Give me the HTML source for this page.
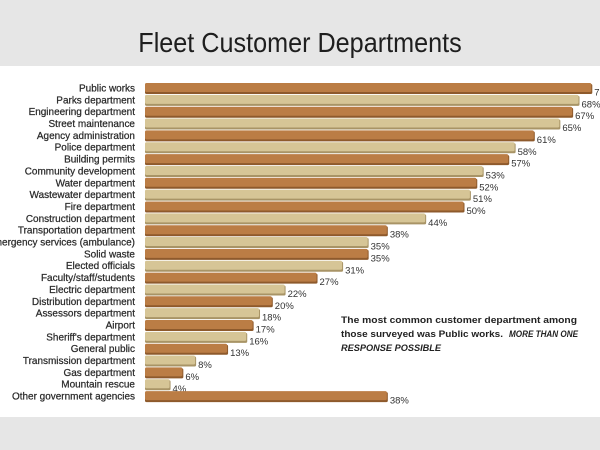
<!DOCTYPE html>
<html><head><meta charset="utf-8"><style>
html,body{margin:0;padding:0;width:600px;height:450px;overflow:hidden;background:#e6e6e6}
svg{display:block}
</style></head><body>
<svg width="600" height="450" xmlns="http://www.w3.org/2000/svg" font-family="Liberation Sans, sans-serif">
<rect width="600" height="450" fill="#e6e6e6"/>
<rect x="0" y="66" width="600" height="351" fill="#ffffff"/>
<text x="300" y="52" text-anchor="middle" font-size="28" fill="#1e1e1e" transform="translate(300 0) scale(0.9 1) translate(-300 0)">Fleet Customer Departments</text>
<g id="bars"></g>
<g font-size="9.5" font-weight="bold" fill="#222">
<text x="341" y="323" textLength="236" lengthAdjust="spacingAndGlyphs">The most common customer department among</text>
<text x="341" y="337" textLength="162" lengthAdjust="spacingAndGlyphs">those surveyed was Public works.</text>
<text x="509" y="337" font-style="italic" textLength="69" lengthAdjust="spacingAndGlyphs">MORE THAN ONE</text>
<text x="341" y="351" font-style="italic" textLength="100" lengthAdjust="spacingAndGlyphs">RESPONSE POSSIBLE</text>
</g>
</svg>
<script>
var d=[["Public works",70,"7"],["Parks department",68],["Engineering department",67],["Street maintenance",65],["Agency administration",61],["Police department",58],["Building permits",57],["Community development",53],["Water department",52],["Wastewater department",51],["Fire department",50],["Construction department",44],["Transportation department",38],["Emergency services (ambulance)",35],["Solid waste",35],["Elected officials",31],["Faculty/staff/students",27],["Electric department",22],["Distribution department",20],["Assessors department",18],["Airport",17],["Sheriff's department",16],["General public",13],["Transmission department",8],["Gas department",6],["Mountain rescue",4],["Other government agencies",38]];
var g=document.getElementById('bars'),s='',x0=145,k=6.39;
d.forEach(function(r,i){var y=83+i*11.85,w=r[1]*k,dark=i%2==0;
var c=dark?'#bb7d45':'#d6c596',sh=dark?'#8e5a2c':'#a89466';
s+='<rect x="'+x0+'" y="'+(y+1)+'" width="'+w+'" height="10" rx="1.5" fill="'+sh+'"/>';
s+='<rect x="'+x0+'" y="'+y+'" width="'+(w-1)+'" height="9" rx="1.5" fill="'+c+'"/>';
s+='<text x="135" y="'+(y+8.5)+'" text-anchor="end" font-size="10.5" fill="#2a2a2a" stroke="#2a2a2a" stroke-width="0.25" transform="translate(135 0) scale(0.95 1) translate(-135 0)">'+r[0].replace("'","&#39;")+'</text>';
s+='<text x="'+(x0+w+2)+'" y="'+(y+12.5)+'" font-size="9.5" fill="#333">'+(r[2]||r[1]+'%')+'</text>';});
g.innerHTML=s;
</script>
</body></html>
